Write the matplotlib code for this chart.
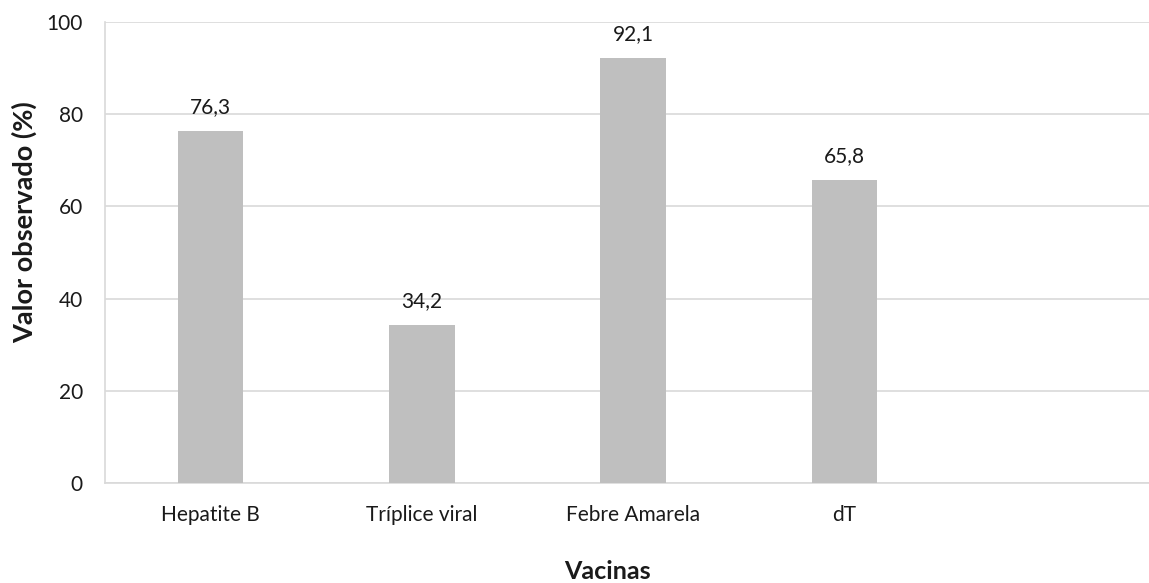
import matplotlib.pyplot as plt

# --- Data ---
vacinas = ['Hepatite B', 'Tríplice viral', 'Febre Amarela', 'dT']
valores = [76.3, 34.2, 92.1, 65.8]
rotulos = ['76,3', '34,2', '92,1', '65,8']
y_ticks = [0, 20, 40, 60, 80, 100]

plt.rcParams['font.family'] = ['Lato', 'DejaVu Sans']

W, H = 1149, 583
fig = plt.figure(figsize=(W / 100, H / 100), dpi=100)
ax = fig.add_axes([105 / W, 1 - 483 / H, 1 - 105 / W, (483 - 22) / H])

x = list(range(len(vacinas)))
bars = ax.bar(x, valores, width=0.31, color='#bfbfbf', zorder=3)

for b, txt in zip(bars, rotulos):
    ax.annotate(txt, (b.get_x() + b.get_width() / 2, b.get_height()),
                xytext=(0, 13), textcoords='offset points',
                ha='center', va='baseline', fontsize=15, color='#1a1a1a')

ax.set_xlim(-0.5, -0.5 + (W - 105) / 211.3)
ax.set_ylim(0, 100)
ax.set_yticks(y_ticks)
ax.set_xticks(x)
ax.set_xticklabels(vacinas)
ax.tick_params(axis='both', length=0, labelsize=15, colors='#1a1a1a')
ax.tick_params(axis='x', pad=16)
ax.tick_params(axis='y', pad=16)

ax.grid(axis='y', color='#d9d9d9', linewidth=1.2, zorder=0)
for s in ['top', 'right']:
    ax.spines[s].set_visible(False)
for s in ['left', 'bottom']:
    ax.spines[s].set_color('#d9d9d9')
    ax.spines[s].set_linewidth(1.2)

ax.set_xlabel('Vacinas', fontsize=18, fontweight='bold', color='#1a1a1a')
ax.set_ylabel('Valor observado (%)', fontsize=19.5, fontweight='bold', color='#1a1a1a')
ax.xaxis.set_label_coords((607 - 105) / (W - 105), -(560 - 483) / (483 - 22))
ax.yaxis.set_label_coords(-(105 - 37) / (W - 105), (483 - 222) / (483 - 22))

fig.savefig('out.png', dpi=100)
